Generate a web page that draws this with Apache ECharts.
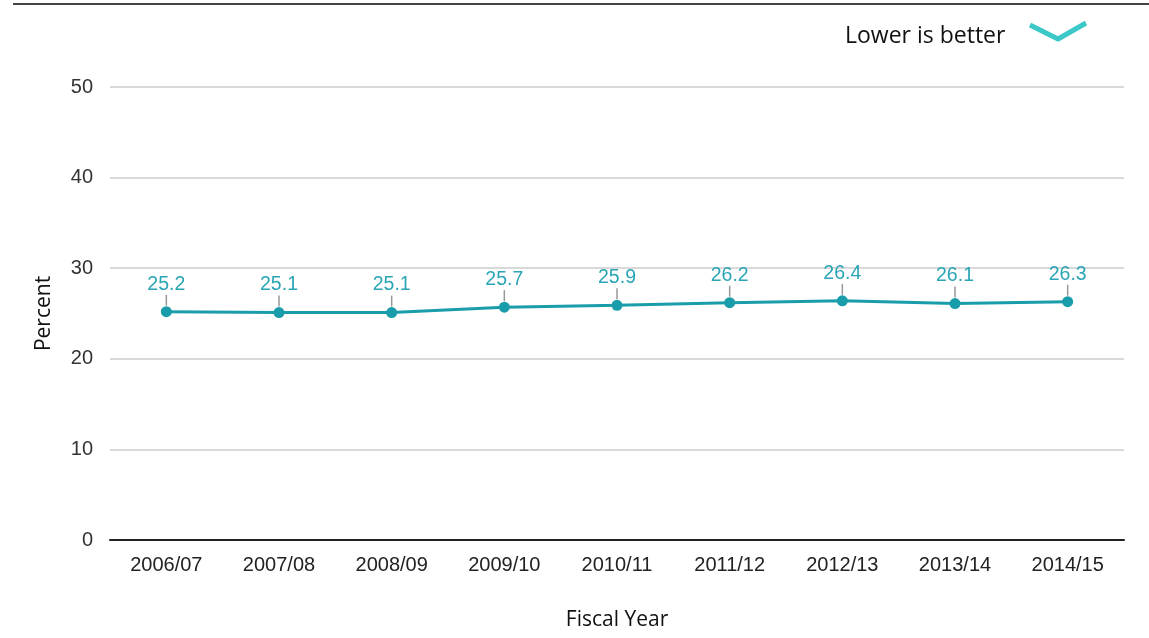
<!DOCTYPE html>
<html>
<head>
<meta charset="utf-8">
<script src="https://cdn.jsdelivr.net/npm/echarts@6/dist/echarts.min.js"></script>
<style>
  html, body { margin: 0; padding: 0; background: #fff; }
  #chart { width: 1149px; height: 638px; }
</style>
</head>
<body>
<div id="chart"></div>
<script>
const fiscalYears = ["2006/07", "2007/08", "2008/09", "2009/10", "2010/11", "2011/12", "2012/13", "2013/14", "2014/15"];
const percentValues = [25.2, 25.1, 25.1, 25.7, 25.9, 26.2, 26.4, 26.1, 26.3];
const yTicks = [0, 10, 20, 30, 40, 50];

const chart = echarts.init(document.getElementById("chart"), null, { renderer: "canvas" });

chart.setOption({
  backgroundColor: "#fff",
  animation: false,
  grid: { left: 110, right: 25, top: 87, bottom: 98, containLabel: false, outerBoundsMode: "none" },
  graphic: [
    // top rule
    { type: "line", shape: { x1: 13, y1: 4, x2: 1149, y2: 4 }, style: { stroke: "#444", lineWidth: 2 } },
    {
      type: "text", left: 845, top: 25,
      style: { text: "Lower is better", font: "23px 'Open Sans', sans-serif", fill: "#111" }
    },
    {
      type: "polyline",
      shape: { points: [[1030, 25], [1058, 39], [1086, 23]] },
      style: { stroke: "#3cc8c8", lineWidth: 5, fill: null, lineJoin: "round" }
    }
  ],
  xAxis: {
    type: "category",
    data: fiscalYears,
    boundaryGap: true,
    name: "Fiscal Year",
    nameLocation: "middle",
    nameGap: 70,
    nameTextStyle: { color: "#111", fontSize: 21, fontFamily: "'Open Sans', sans-serif" },
    axisLine: { lineStyle: { color: "#222", width: 2 } },
    axisTick: { show: false },
    axisLabel: { color: "#222", fontSize: 20, fontFamily: "Arial, 'Liberation Sans', sans-serif", margin: 15 }
  },
  yAxis: {
    type: "value",
    min: yTicks[0],
    max: yTicks[yTicks.length - 1],
    interval: 10,
    name: "Percent",
    nameLocation: "middle",
    nameGap: 55,
    nameTextStyle: { color: "#111", fontSize: 21, fontFamily: "'Open Sans', sans-serif" },
    axisLine: { show: false },
    axisTick: { show: false },
    axisLabel: { color: "#333", fontSize: 20, fontFamily: "Arial, 'Liberation Sans', sans-serif", margin: 17 },
    splitLine: { lineStyle: { color: "#d9d9d9", width: 2 } }
  },
  series: [
    {
      // short gray leader ticks between point and label
      type: "custom",
      silent: true,
      z: 1,
      data: percentValues.map((v, i) => [i, v]),
      renderItem: (params, api) => {
        const p = api.coord([api.value(0), api.value(1)]);
        return {
          type: "line",
          shape: { x1: p[0], y1: p[1] - 6, x2: p[0], y2: p[1] - 17 },
          style: { stroke: "#999", lineWidth: 1.5 }
        };
      }
    },
    {
      type: "line",
      data: percentValues,
      z: 3,
      symbol: "circle",
      symbolSize: 11,
      lineStyle: { color: "#1a9daa", width: 3 },
      itemStyle: { color: "#1a9daa" },
      label: {
        show: true,
        position: "top",
        distance: 12,
        color: "#2aa5b5",
        fontSize: 19.5,
        fontFamily: "Arial, 'Liberation Sans', sans-serif",
        formatter: (p) => p.value.toFixed(1)
      }
    }
  ]
});
</script>
</body>
</html>
